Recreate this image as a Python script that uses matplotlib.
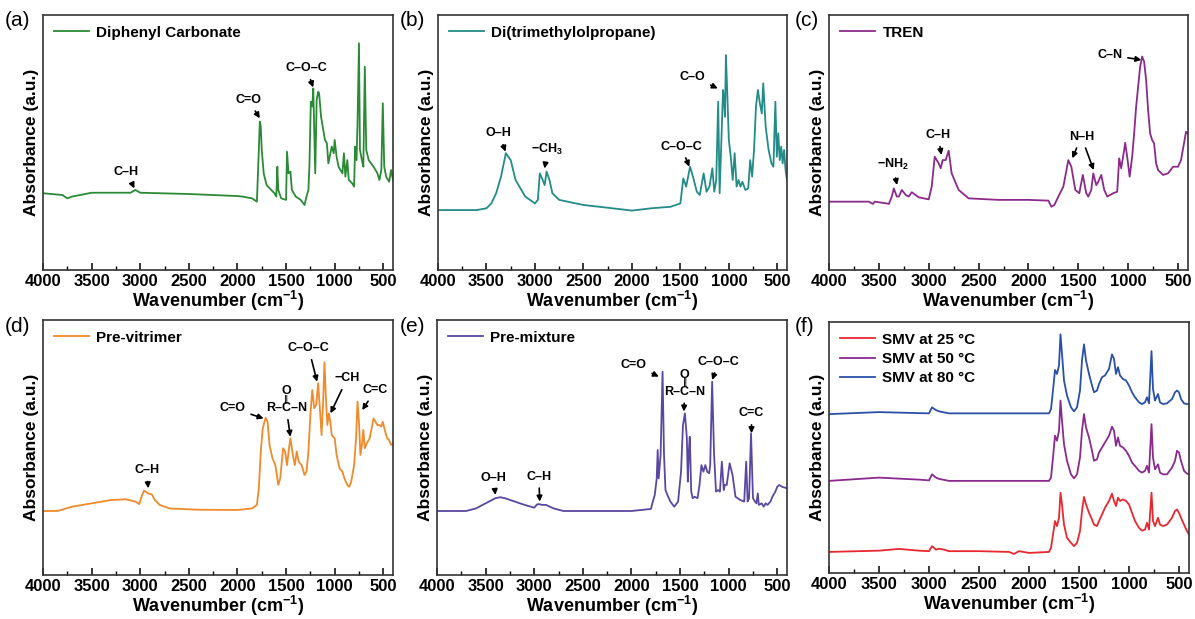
import matplotlib
matplotlib.use("Agg")
import matplotlib.pyplot as plt

# FTIR spectra (absorbance in arbitrary units, 0-100)
wn_a = [4000, 3800, 3750, 3700, 3500, 3100, 3050, 3000, 2500, 2000, 1950, 1850, 1800, 1780, 1770,
        1760, 1750, 1730, 1700, 1620, 1600, 1590, 1580, 1550, 1500, 1490, 1475, 1455, 1440, 1400,
        1350, 1310, 1290, 1270, 1260, 1245, 1230, 1220, 1200, 1185, 1170, 1160, 1140, 1100, 1080,
        1065, 1030, 1010, 1000, 980, 960, 920, 905, 890, 870, 855, 820, 800, 790, 775,
        765, 750, 740, 720, 705, 690, 675, 650, 600, 560, 540, 520, 505, 490, 470,
        440, 420, 400]
abs_a = [30.1, 29.4, 28.1, 28.8, 30.3, 30.3, 31.4, 30.3, 29.8, 29.0, 28.8, 28.1, 26.8, 47.1, 58.2,
         56.2, 47.1, 37.9, 33.3, 30.1, 28.8, 40.5, 31.4, 28.1, 27.5, 46.4, 37.9, 38.6, 31.4, 28.8,
         27.5, 25.5, 28.8, 31.4, 40.5, 66.0, 64.1, 71.2, 37.9, 66.7, 69.9, 69.3, 60.1, 51.0, 49.7,
         41.8, 48.4, 45.8, 51.0, 44.4, 40.5, 37.9, 45.8, 36.6, 43.1, 35.3, 34.0, 32.7, 48.4, 43.1,
         57.5, 88.9, 47.1, 43.1, 40.5, 79.7, 47.1, 43.1, 40.5, 37.9, 35.3, 39.2, 65.4, 40.5, 36.6,
         34.6, 39.2, 35.3]

wn_b = [4000, 3600, 3500, 3450, 3400, 3350, 3300, 3250, 3200, 3100, 3000, 2970, 2950, 2920, 2900,
        2880, 2850, 2820, 2750, 2500, 2200, 2000, 1800, 1600, 1500, 1470, 1440, 1400, 1370, 1330,
        1300, 1260, 1230, 1200, 1170, 1150, 1130, 1110, 1095, 1080, 1060, 1050, 1040, 1030, 1015,
        1000, 980, 960, 940, 920, 900, 880, 860, 830, 800, 780, 760, 740, 720, 700,
        680, 660, 645, 620, 590, 560, 540, 520, 505, 490, 475, 460, 445, 430, 415, 400]
abs_b = [23.5, 23.5, 24.2, 26.1, 30.1, 36.6, 45.8, 43.1, 35.3, 28.8, 26.1, 27.5, 37.9, 35.3, 33.3,
         38.6, 35.3, 30.1, 27.5, 25.5, 24.2, 23.3, 24.2, 24.8, 26.1, 35.9, 32.7, 40.5, 36.6, 30.7,
         29.4, 37.9, 30.7, 32.7, 39.9, 30.7, 35.3, 66.0, 30.1, 47.1, 70.6, 66.7, 60.1, 84.3, 68.0,
         51.0, 44.4, 35.3, 45.8, 32.7, 35.3, 32.7, 34.6, 31.4, 32.0, 43.1, 36.6, 47.1, 64.1, 70.6,
         65.4, 61.4, 73.2, 56.2, 47.1, 41.8, 40.5, 66.0, 44.4, 53.6, 43.1, 48.4, 41.8, 47.1, 39.2, 35.3]

wn_c = [4000, 3600, 3560, 3540, 3420, 3400, 3370, 3350, 3320, 3300, 3270, 3230, 3200, 3170, 3100,
        3000, 2970, 2940, 2900, 2880, 2860, 2830, 2800, 2770, 2700, 2600, 2300, 2000, 1800, 1770,
        1740, 1700, 1650, 1600, 1570, 1530, 1490, 1455, 1420, 1400, 1370, 1350, 1320, 1300, 1270,
        1240, 1210, 1150, 1110, 1090, 1070, 1040, 1030, 1010, 985, 960, 940, 920, 900, 880,
        860, 840, 820, 800, 780, 760, 740, 720, 700, 650, 600, 550, 500, 470, 440, 420, 405]
abs_c = [26.8, 26.8, 25.9, 26.8, 26.1, 25.9, 28.8, 32.0, 28.8, 28.8, 31.4, 29.4, 28.8, 30.5, 28.5,
         27.7, 32.7, 44.4, 41.8, 39.9, 43.1, 43.1, 46.8, 37.9, 31.4, 28.1, 27.5, 27.5, 27.2, 24.8,
         25.5, 28.8, 32.7, 43.1, 40.5, 31.4, 30.1, 37.3, 30.1, 28.8, 31.4, 37.9, 33.3, 34.6, 37.3,
         31.4, 28.8, 30.1, 30.7, 43.8, 39.9, 47.1, 49.9, 44.4, 36.6, 44.4, 53.6, 64.1, 71.9, 79.7,
         83.7, 81.7, 74.5, 62.7, 53.6, 51.0, 49.7, 41.8, 39.2, 37.3, 37.9, 40.5, 40.5, 43.1, 49.7, 54.2, 53.6]

wn_d = [4000, 3850, 3700, 3500, 3300, 3150, 3050, 3010, 2980, 2960, 2920, 2880, 2850, 2800, 2700,
        2400, 2000, 1850, 1800, 1780, 1760, 1740, 1710, 1690, 1670, 1640, 1610, 1580, 1560, 1530,
        1510, 1490, 1470, 1455, 1430, 1410, 1390, 1370, 1340, 1310, 1290, 1270, 1250, 1230, 1210,
        1190, 1170, 1150, 1135, 1120, 1105, 1090, 1075, 1060, 1045, 1030, 1000, 980, 950, 920,
        900, 870, 850, 830, 800, 780, 765, 750, 735, 720, 705, 690, 670, 640, 620,
        600, 580, 560, 540, 520, 505, 480, 460, 440, 420, 400]
abs_d = [25.1, 25.1, 26.8, 28.1, 29.4, 29.7, 28.8, 27.8, 31.4, 33.1, 32.0, 31.6, 29.4, 27.5, 26.1,
         25.6, 25.5, 26.1, 27.5, 34.0, 48.4, 57.5, 61.7, 60.1, 51.0, 45.8, 43.1, 35.3, 37.9, 49.7,
         48.4, 43.1, 49.7, 53.6, 47.1, 43.1, 48.4, 44.4, 43.1, 39.2, 40.5, 48.4, 62.7, 72.5, 65.4,
         66.7, 75.2, 64.1, 54.9, 66.7, 83.4, 69.3, 58.8, 63.4, 60.1, 54.9, 53.6, 47.1, 41.8, 40.5,
         37.9, 35.3, 34.6, 36.6, 43.1, 53.6, 68.0, 60.1, 47.1, 51.0, 56.9, 49.7, 51.6, 53.6, 57.5,
         61.4, 60.1, 58.8, 58.8, 58.2, 60.1, 56.2, 53.6, 52.9, 51.0, 51.6]

wn_e = [4000, 3700, 3600, 3500, 3400, 3350, 3300, 3200, 3100, 3000, 2970, 2950, 2920, 2880, 2800,
        2700, 2000, 1800, 1780, 1760, 1740, 1730, 1720, 1700, 1680, 1665, 1650, 1630, 1600, 1560,
        1520, 1490, 1470, 1450, 1430, 1420, 1410, 1400, 1385, 1370, 1350, 1320, 1300, 1280, 1260,
        1240, 1220, 1200, 1190, 1170, 1150, 1130, 1110, 1090, 1070, 1050, 1040, 1020, 990, 960,
        930, 880, 840, 820, 805, 790, 770, 750, 730, 715, 700, 690, 660, 640, 620,
        600, 570, 550, 520, 500, 480, 450, 400]
abs_e = [25.1, 25.1, 26.1, 28.1, 30.1, 30.5, 30.1, 28.8, 27.5, 26.4, 27.7, 27.8, 27.5, 27.5, 26.1,
         25.1, 25.1, 25.9, 28.8, 31.4, 37.9, 49.0, 37.9, 47.1, 79.7, 47.1, 33.3, 31.4, 28.8, 26.8,
         28.8, 40.5, 58.8, 63.4, 53.6, 36.6, 48.4, 54.2, 32.7, 30.1, 30.7, 30.1, 35.3, 43.1, 40.5,
         43.1, 40.5, 39.9, 43.1, 75.8, 47.1, 32.7, 33.3, 32.7, 44.4, 33.3, 35.3, 35.3, 43.8, 39.2,
         30.7, 29.4, 28.8, 44.4, 28.8, 30.1, 55.6, 30.1, 28.8, 28.1, 32.0, 27.5, 28.1, 26.8, 28.1,
         27.5, 28.8, 30.7, 32.7, 34.6, 35.3, 34.6, 34.0]

wn_f = [4000, 3500, 3300, 3100, 3000, 2970, 2930, 2900, 2850, 2800, 2500, 2200, 2150, 2100, 2000,
        1800, 1780, 1760, 1740, 1720, 1700, 1685, 1670, 1650, 1620, 1580, 1550, 1520, 1490, 1470,
        1450, 1430, 1400, 1370, 1350, 1320, 1300, 1270, 1240, 1200, 1170, 1150, 1130, 1110, 1090,
        1060, 1030, 1000, 970, 940, 900, 870, 840, 820, 800, 775, 760, 740, 710, 690,
        660, 620, 570, 540, 520, 500, 480, 450, 420, 400]
abs_f25 = [8.4, 8.9, 9.6, 8.9, 8.7, 10.7, 9.3, 9.7, 9.3, 8.7, 8.7, 8.4, 7.6, 8.7, 8.0,
           8.4, 10.0, 15.3, 20.7, 18.7, 22.0, 32.0, 27.3, 19.3, 14.0, 12.0, 10.7, 12.0, 16.7, 24.7,
           30.3, 27.3, 24.0, 21.3, 19.3, 18.7, 20.7, 23.3, 26.0, 28.7, 31.6, 28.7, 26.7, 30.0, 28.7,
           29.3, 28.7, 27.3, 24.0, 20.7, 18.0, 16.9, 17.3, 20.0, 17.3, 32.0, 20.7, 18.7, 22.0, 19.3,
           18.7, 19.3, 22.0, 24.7, 25.3, 24.0, 22.0, 19.3, 16.7, 15.3]
abs_f50 = [36.7, 38.0, 37.6, 37.2, 36.9, 39.3, 38.0, 37.5, 37.1, 36.7, 36.7, 36.7, 36.7, 36.7, 36.7,
           36.7, 38.0, 46.0, 54.7, 52.7, 56.7, 68.7, 60.7, 51.3, 44.7, 39.3, 37.7, 39.3, 46.0, 56.7,
           63.3, 58.0, 54.0, 48.7, 44.7, 45.3, 48.0, 50.0, 52.0, 54.7, 58.3, 56.7, 50.7, 54.0, 50.7,
           50.0, 48.7, 46.7, 44.0, 42.7, 40.7, 40.0, 40.7, 42.7, 40.0, 59.3, 46.0, 41.3, 43.3, 40.0,
           39.3, 39.3, 42.0, 44.7, 48.7, 48.0, 44.7, 40.7, 39.6, 39.3]
abs_f80 = [63.3, 64.1, 63.9, 63.7, 63.6, 66.0, 64.9, 64.4, 64.0, 63.6, 63.6, 63.6, 63.6, 63.6, 63.6,
           63.6, 65.3, 72.7, 80.9, 79.3, 82.7, 95.1, 87.3, 76.7, 70.7, 66.0, 64.4, 66.0, 72.7, 84.7,
           91.1, 84.7, 79.3, 74.7, 72.0, 72.7, 75.3, 78.0, 78.7, 81.3, 87.1, 85.3, 79.3, 82.0, 78.7,
           77.3, 76.7, 74.7, 72.0, 70.0, 68.0, 67.3, 68.0, 70.0, 67.6, 88.4, 73.3, 68.7, 71.3, 68.0,
           67.3, 67.6, 69.3, 72.0, 72.7, 72.0, 69.3, 67.6, 67.3, 67.3]

x_ticks = [4000, 3500, 3000, 2500, 2000, 1500, 1000, 500]

# annotation labels: (text, text position, arrow tip(s))
notes_a = [("C–H", (3142, 38.6), [(3060, 32.0)]),
           ("C=O", (1890, 66.7), [(1770, 59.5)]),
           ("C–O–C", (1290, 79.1), [(1221, 71.6)])]
notes_b = [("O–H", (3372, 53.6), [(3303, 46.4)]),
           ("−CH$_3$", (2872, 47.1), [(2900, 39.8)]),
           ("C–O–C", (1493, 48.4), [(1407, 40.5)]),
           ("C–O", (1373, 75.8), [(1114, 71.2)])]
notes_c = [("−NH$_2$", (3358, 41.2), [(3318, 33.3)]),
           ("C–H", (2907, 52.9), [(2873, 45.1)]),
           ("N–H", (1469, 52.3), [(1560, 43.8), (1346, 39.2)]),
           ("C–N", (1185, 84.3), [(868, 82.4)])]
notes_d = [("C–H", (2934, 41.2), [(2917, 34.0)]),
           ("C=O", (2050, 65.4), [(1731, 61.4)]),
           ("R–C–N", (1497, 65.4), [(1456, 54.2)]),
           ("C–O–C", (1267, 88.9), [(1181, 75.8)]),
           ("−CH", (871, 77.1), [(1043, 63.4)]),
           ("C=C", (579, 72.5), [(717, 64.7)])]
notes_e = [("O–H", (3417, 37.9), [(3400, 31.4)]),
           ("C–H", (2953, 38.6), [(2943, 28.8)]),
           ("C=O", (1976, 82.4), [(1718, 77.8)]),
           ("R–C–N", (1451, 71.9), [(1461, 64.1)]),
           ("C–O–C", (1101, 83.7), [(1170, 76.5)]),
           ("C=C", (765, 63.4), [(765, 55.6)])]

plt.rcParams['font.family'] = ['Liberation Sans', 'DejaVu Sans']
plt.rcParams['font.weight'] = 'bold'
plt.rcParams['mathtext.fontset'] = 'custom'
plt.rcParams['mathtext.rm'] = 'Liberation Sans:bold'
plt.rcParams['mathtext.bf'] = 'Liberation Sans:bold'
plt.rcParams['mathtext.default'] = 'bf'

W, H = 1195, 619
fig = plt.figure(figsize=(W / 100, H / 100), dpi=100)


def px_axes(x, y, w, h):
    return fig.add_axes([x / W, 1 - (y + h) / H, w / W, h / H])


def style_axes(ax):
    ax.set_xlim(4000, 400)
    ax.set_ylim(0, 100)
    ax.set_xticks(x_ticks)
    ax.set_xticks(range(3750, 400, -500), minor=True)
    ax.set_yticks([])
    ax.tick_params(axis='x', which='major', direction='in', length=5, width=1.1,
                   labelsize=12, pad=3, top=False)
    ax.tick_params(axis='x', which='minor', direction='in', length=3, width=1.0)
    for t in ax.get_xticklabels():
        t.set_fontweight('bold')
    for s in ax.spines.values():
        s.set_linewidth(1.2)
        s.set_color('#333333')
    ax.set_xlabel('Wavenumber (cm$^{-1}$)', fontsize=13, fontweight='bold', labelpad=0)
    ax.set_ylabel('Absorbance (a.u.)', fontsize=12.5, fontweight='bold', labelpad=3)


def add_notes(ax, notes):
    for text, pos, tips in notes:
        for i, tip in enumerate(tips):
            ax.annotate(text, xy=tip, xytext=pos, ha='center', va='center',
                        fontsize=9, fontweight='bold',
                        color='black' if i == 0 else 'none',
                        arrowprops=dict(arrowstyle='-|>', color='black', lw=1.2,
                                        mutation_scale=8, shrinkA=2, shrinkB=0))
        if text.startswith('R'):
            # carbonyl O drawn above the amide C
            ax.text(pos[0], pos[1] + 3.4, '‖', ha='center', va='center', fontsize=6,
                    family=['DejaVu Sans'])
            ax.text(pos[0], pos[1] + 6.6, 'O', ha='center', va='center', fontsize=9,
                    fontweight='bold')


panels = [
    ((43, 15, 350, 255), [(wn_a, abs_a, '#2a8a35', 'Diphenyl Carbonate')], notes_a, '(a)', (5, 20)),
    ((438, 15, 349, 255), [(wn_b, abs_b, '#238b88', 'Di(trimethylolpropane)')], notes_b, '(b)', (400, 20)),
    ((829, 15, 359, 255), [(wn_c, abs_c, '#8b2a8b', 'TREN')], notes_c, '(c)', (795, 20)),
    ((43, 320, 350, 255), [(wn_d, abs_d, '#f08a2a', 'Pre-vitrimer')], notes_d, '(d)', (5, 327)),
    ((437, 320, 350, 255), [(wn_e, abs_e, '#5a48a0', 'Pre-mixture')], notes_e, '(e)', (400, 327)),
    ((829, 322, 360, 251), [(wn_f, abs_f25, '#e8282e', 'SMV at 25 °C'),
                            (wn_f, abs_f50, '#8a2a8f', 'SMV at 50 °C'),
                            (wn_f, abs_f80, '#2a4fa8', 'SMV at 80 °C')], [], '(f)', (795, 327)),
]

for rect, series, notes, tag, tag_xy in panels:
    ax = px_axes(*rect)
    for wn, ab, color, label in series:
        ax.plot(wn, ab, color=color, lw=1.3, label=label)
    style_axes(ax)
    add_notes(ax, notes)
    ax.legend(loc='upper left', frameon=False, handlelength=2.3, handletextpad=0.5,
              borderaxespad=0.3, labelspacing=0.35, prop={'weight': 'bold', 'size': 11})
    fig.text(tag_xy[0] / W, 1 - tag_xy[1] / H, tag, fontsize=15, fontweight='normal',
             ha='left', va='center')

fig.savefig('out.png', dpi=100)
